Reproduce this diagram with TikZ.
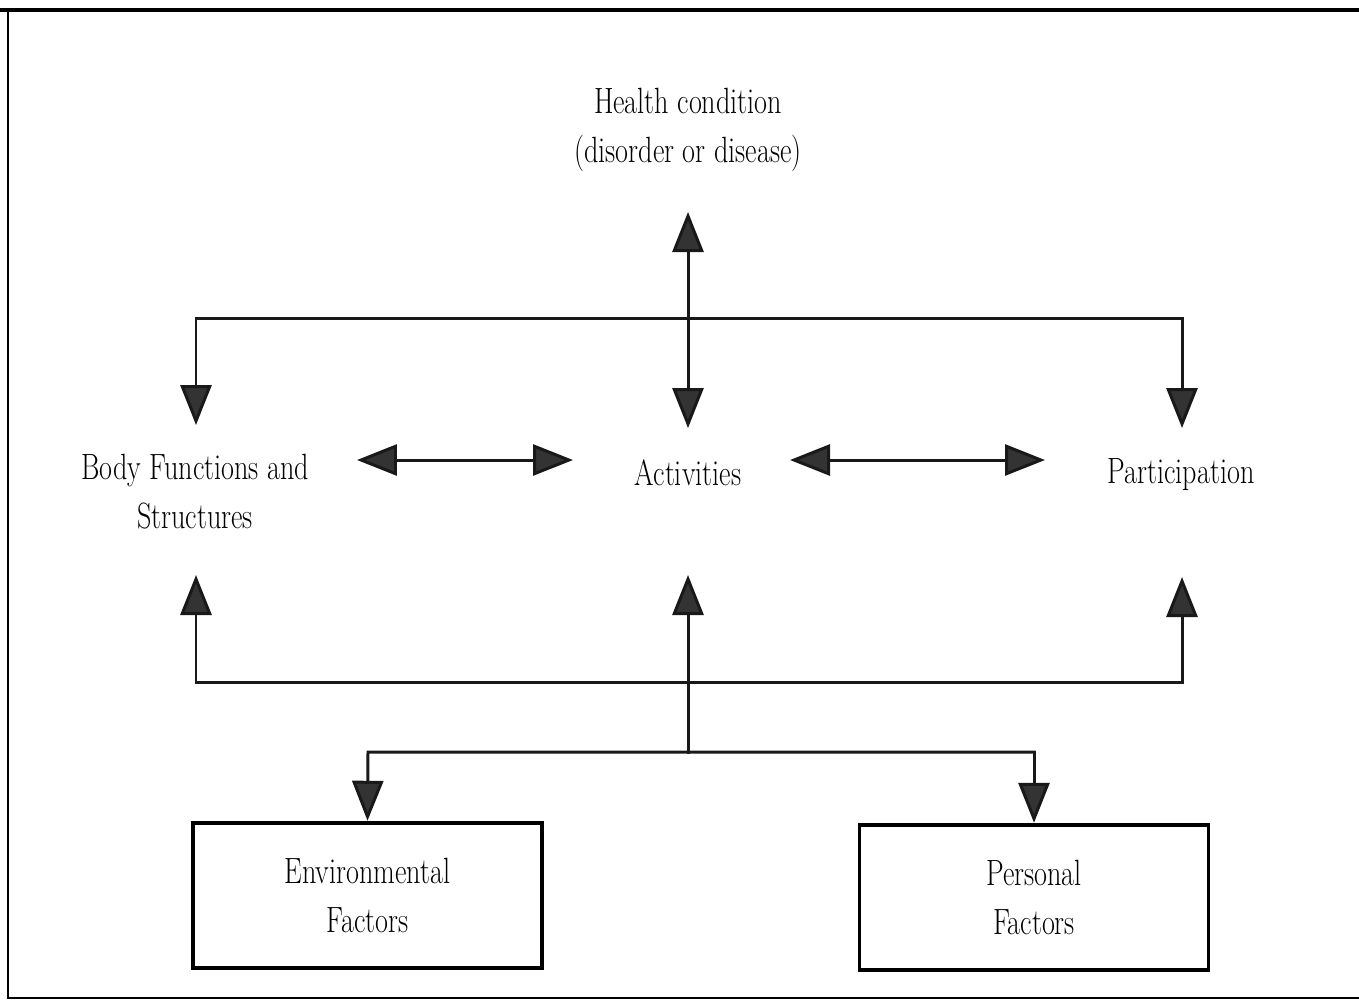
\documentclass[tikz,border=0pt]{standalone}
\usetikzlibrary{arrows.meta,positioning}
\tikzset{
    every node/.style={font=\fontsize{16}{21.5}\selectfont, align=center, inner sep=0pt,
        yscale=1.3, transform shape},
    link/.style={line width=1.7pt, draw=black!90, line cap=rect},
    tip/.style={-{Triangle[width=0.62cm,length=0.8cm,fill=black!80]}},
    dbltip/.style={{Triangle[width=0.62cm,length=0.8cm,fill=black!80]}-{Triangle[width=0.62cm,length=0.8cm,fill=black!80]}},
    factorbox/.style={draw, line width=2pt, minimum width=6.98cm, minimum height=2.23cm}
}

\begin{document}
\begin{tikzpicture}[x=0.02cm, y=-0.02cm]
	\useasboundingbox (0,0) rectangle (1359,1002);
	% frame of the scan
	\draw[line width=2.3pt] (0,10) -- (1359,10);
	\draw[line width=1.2pt] (8,10) -- (8,998) -- (1359,998);

	\node (hc) at (688,130) {Health condition\\(disorder or disease)};
	\node (body) at (195,492) {Body Functions and\\Structures};
	\node (act) at (688,473) {Activities};
	\node (part) at (1181,475) {Participation};
	\node [factorbox] (env) at (367.5,895.5) {Environmental\\Factors};
	\node [factorbox] (pers) at (1034,897.5) {Personal\\Factors};

	\coordinate (hctip) at (688,212);
	\coordinate (acttop) at (688,428);
	\coordinate (bodytop) at (196,425);
	\coordinate (parttop) at (1182,428);
	\coordinate (bodybot) at (196,575);
	\coordinate (actbot) at (688,575);
	\coordinate (partbot) at (1182,577);
	\coordinate (ba1) at (357,460); \coordinate (ba2) at (573,460);
	\coordinate (ap1) at (790,460); \coordinate (ap2) at (1045,460);
	\coordinate (tl) at (196,318); \coordinate (tr) at (1182,318);
	\coordinate (bl) at (196,682); \coordinate (br) at (1182,682);
	\coordinate (fl) at (368,752); \coordinate (fm) at (688,752);
	\coordinate (fr) at (1034,752);

	\draw[link,dbltip] (hctip) -- (acttop);
	\draw[link,tip] (tr) -- (tl) -- (bodytop);
	\draw[link,tip] (tr) -- (parttop);
	\draw[link,dbltip] (ba1) -- (ba2);
	\draw[link,dbltip] (ap1) -- (ap2);
	\draw[link,tip] (br) -- (bl) -- (bodybot);
	\draw[link,tip] (br) -- (partbot);
	\draw[link,tip] (fm) -- (actbot);
	\draw[link,tip] (fr) -- (fl) -- (env.north);
	\draw[link,tip] (fr) -- (pers.north);
\end{tikzpicture}
\end{document}
